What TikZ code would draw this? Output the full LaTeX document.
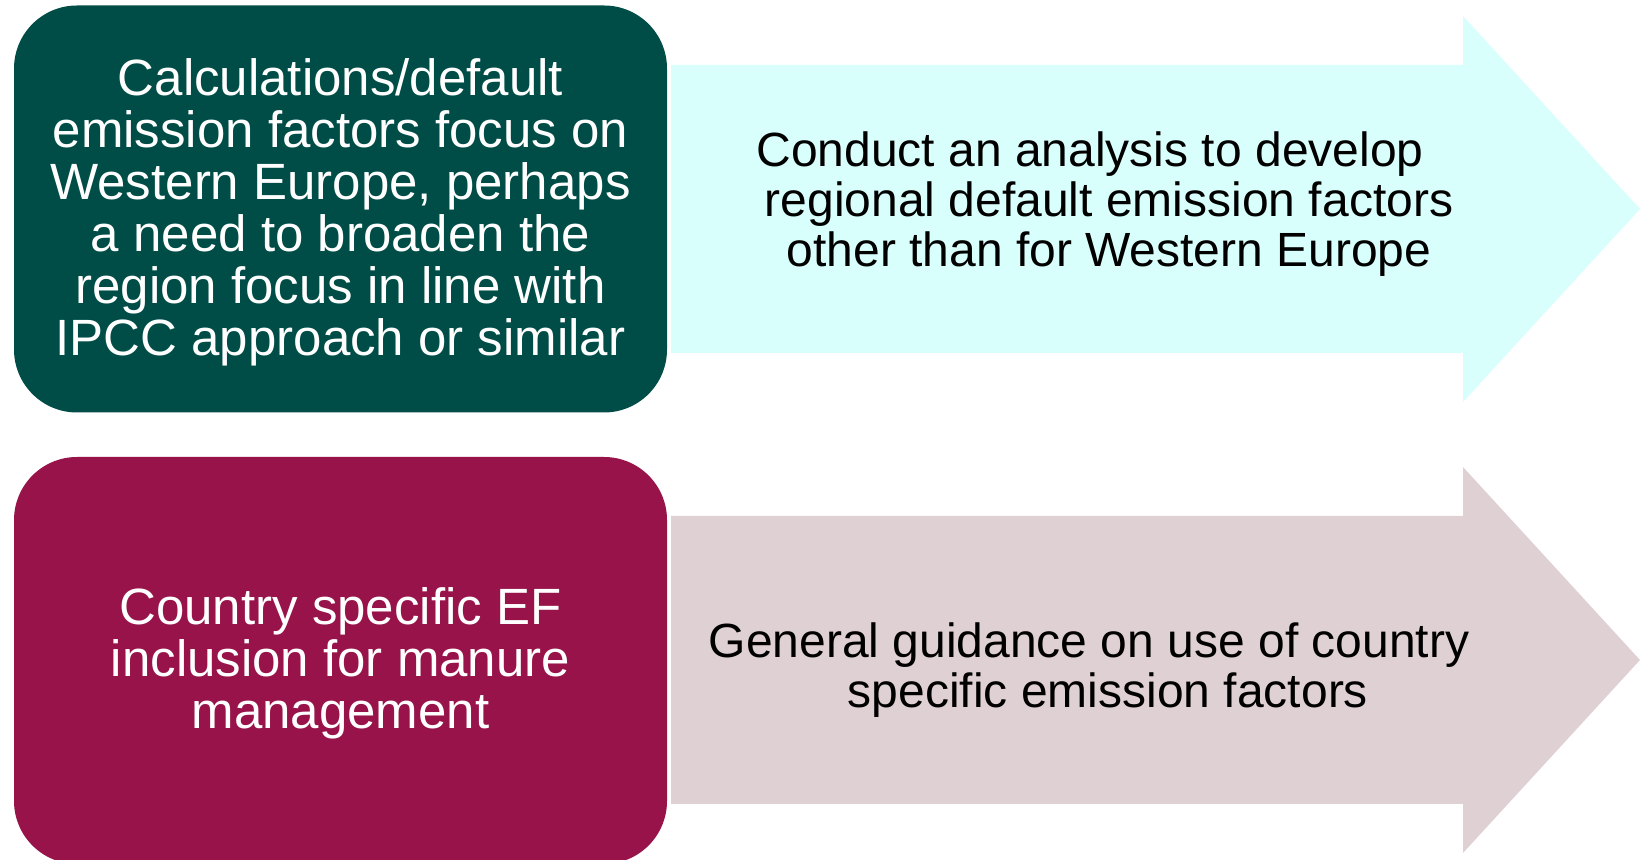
\documentclass[tikz,border=0pt]{standalone}
\usepackage{fontspec}
\setmainfont{Liberation Sans}
\definecolor{boxteal}{RGB}{0,77,71}
\definecolor{arrowcyan}{RGB}{216,255,252}
\definecolor{boxwine}{RGB}{151,19,74}
\definecolor{arrowmauve}{RGB}{223,208,212}
\tikzset{
  leftbox/.style={rounded corners=31.5pt, minimum width=326.5pt, minimum height=203.5pt, inner sep=0pt},
  boxtext/.style={align=center, text=white, inner sep=0pt, font=\fontsize{25.5}{26}\selectfont},
  arrowtext/.style={align=center, text=black, inner sep=0pt, font=\fontsize{24}{25}\selectfont}
}
\begin{document}
\begin{tikzpicture}[x=0.5pt,y=-0.5pt]
\useasboundingbox (0,0) rectangle (1640,860);
% arrows
\fill[arrowcyan] (671,65) -- (1463,65) -- (1463,16) -- (1640,209) -- (1463,402) -- (1463,353) -- (671,353) -- cycle;
\fill[arrowmauve] (671,516) -- (1463,516) -- (1463,467) -- (1640,660) -- (1463,853) -- (1463,804) -- (671,804) -- cycle;
% boxes
\node[leftbox, fill=boxteal] (b1) at (340.5,209) {};
\node[leftbox, fill=boxwine] (b2) at (340.5,660.5) {};
\node[boxtext] (t1) at ([yshift=-1.5pt]b1.center) {Calculations/default\\emission factors focus on\\Western Europe, perhaps\\a need to broaden the\\region focus in line with\\IPCC approach or similar};
\node[boxtext] (t2) at ([yshift=-1.5pt]b2.center) {Country specific EF\\inclusion for manure\\management};
% arrow texts
\node[arrowtext] (a1) at (1109,204) {Conduct an analysis to develop\hspace*{19pt}\\regional default emission factors\\other than for Western Europe};
\node[arrowtext] (a2) at (1108,670) {General guidance on use of country\hspace*{19pt}\\specific emission factors};
\end{tikzpicture}
\end{document}
